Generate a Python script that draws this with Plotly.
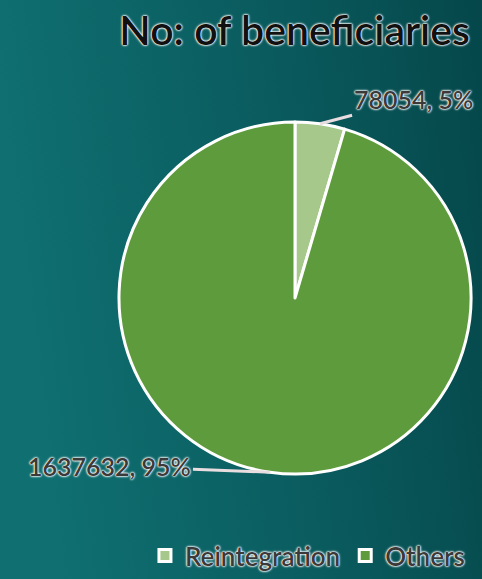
import math, base64
import plotly.graph_objects as go

# ---- data ----
labels = ["Reintegration", "Others"]
values = [78054, 1637632]
percent_text = ["5%", "95%"]
colors = ["#a6c98b", "#5e9b3c"]
title_text = "No: of beneficiaries"

W, H = 482, 579
CX, CY, R = 295, 298, 176  # pie centre / radius in pixels (layout)

glow = "0 0 1px #ffffff, 0 0 2px #ffffff, 0 0 2px #ffffff, 0 0 3px #ffffff"
font_family = "Lato, 'Open Sans', sans-serif"

svg = f"""<svg xmlns='http://www.w3.org/2000/svg' width='{W}' height='{H}'>
<defs><linearGradient id='g' x1='0' y1='0.15' x2='1' y2='0'>
<stop offset='0' stop-color='#0f6f71'/><stop offset='0.55' stop-color='#0a5b5e'/>
<stop offset='1' stop-color='#05474a'/></linearGradient></defs>
<rect width='{W}' height='{H}' fill='url(#g)'/></svg>"""
bg_uri = "data:image/svg+xml;base64," + base64.b64encode(svg.encode()).decode()

fig = go.Figure(go.Pie(
    labels=labels, values=values, sort=False, direction="clockwise", rotation=0,
    marker=dict(colors=colors, line=dict(color="#ffffff", width=3)),
    textinfo="none", hoverinfo="label+value+percent",
    domain=dict(x=[(CX - R) / W, (CX + R) / W], y=[1 - (CY + R) / H, 1 - (CY - R) / H]),
))

# label annotations placed at the mid-angle of each slice
total = sum(values)
offsets = [(93, -25), (-160, -6)]
annotations = []
cum = 0
for v, p, (ax, ay) in zip(values, percent_text, offsets):
    mid = (cum + v / 2) / total * 2 * math.pi
    cum += v
    px = CX + R * math.sin(mid)
    py = CY - R * math.cos(mid)
    annotations.append(dict(
        x=px / W, y=1 - py / H, xref="paper", yref="paper",
        text=f"{v}, {p}", showarrow=True, arrowhead=0, arrowwidth=3,
        arrowcolor="#eadde0", ax=ax, ay=ay, standoff=0,
        font=dict(family=font_family, size=25, weight=600, color="#3a3a3a", shadow=glow),
    ))

fig.update_layout(
    width=W, height=H,
    margin=dict(l=0, r=0, t=0, b=0),
    paper_bgcolor="#0a5a5d",
    images=[dict(source=bg_uri, xref="paper", yref="paper", x=0, y=1,
                 sizex=1, sizey=1, sizing="stretch", layer="below",
                 xanchor="left", yanchor="top")],
    title=dict(text=title_text, x=0.975, xanchor="right", y=1 - 31 / H, yanchor="middle",
               font=dict(family=font_family, size=41, weight=600, color="#111111", shadow=glow)),
    annotations=annotations,
    showlegend=True,
    legend=dict(orientation="h", x=0.975, xanchor="right", y=0.0, yanchor="bottom",
                bgcolor="rgba(0,0,0,0)", itemwidth=30,
                font=dict(family=font_family, size=26, weight=600, color="#3a3a3a", shadow=glow)),
)

fig.write_html("out.html", config={"displayModeBar": False},
               post_script="document.body.style.margin='0';")
